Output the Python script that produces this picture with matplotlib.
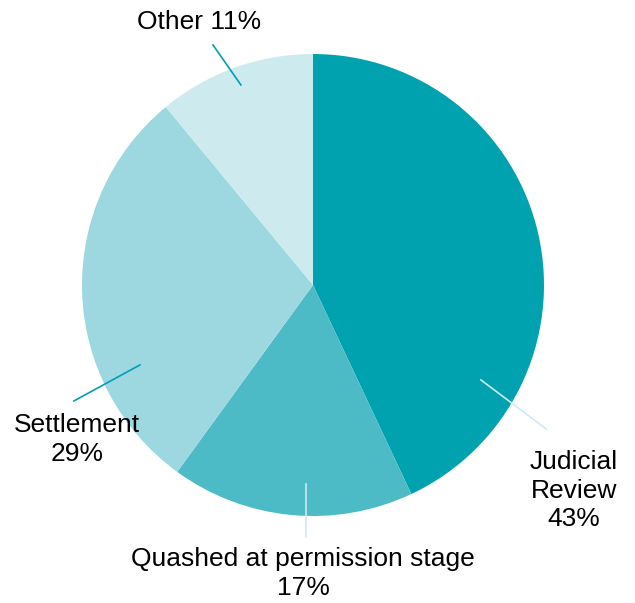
import matplotlib.pyplot as plt

plt.rcParams['font.family'] = ['Liberation Sans', 'DejaVu Sans']

labels = ['Judicial\nReview', 'Quashed at permission stage', 'Settlement', 'Other']
shares = [43, 17, 29, 11]
colours = ['#00A2B0', '#4DBBC6', '#9DD8E0', '#CDEBEF']

fig = plt.figure(figsize=(6.35, 6.03), dpi=100)
ax = fig.add_axes([0, 0, 1, 1])

ax.pie(shares, colors=colours, startangle=90, counterclock=False,
       radius=1.0, center=(0, 0), wedgeprops=dict(linewidth=0))

# leader lines and label spots (data units, radius = 1)
leaders = [
    ((0.727, -0.411), (1.009, -0.623), '#CDEBEF'),
    ((-0.030, -0.861), (-0.030, -1.091), '#CDEBEF'),
    ((-0.749, -0.346), (-1.035, -0.502), '#00A0B0'),
    ((-0.312, 0.866), (-0.433, 1.039), '#00A0B0'),
]
label_pos = [(1.130, -0.890), (-0.043, -1.250), (-1.022, -0.670), (-0.493, 1.137)]

for (p0, p1, c) in leaders:
    ax.plot([p0[0], p1[0]], [p0[1], p1[1]], color=c, lw=1.2)

for lab, val, pos in zip(labels, shares, label_pos):
    if lab == 'Other':
        txt = f'{lab} {val}%'
    else:
        txt = f'{lab}\n{val}%'
    ax.text(pos[0], pos[1], txt, ha='center', va='center', fontsize=19,
            linespacing=1.25, color='black')

ax.set_xlim(-313 / 231, (635 - 313) / 231)
ax.set_ylim(-(603 - 285) / 231, 285 / 231)
ax.set_aspect('equal')
ax.axis('off')

fig.savefig('out.png', dpi=100)
